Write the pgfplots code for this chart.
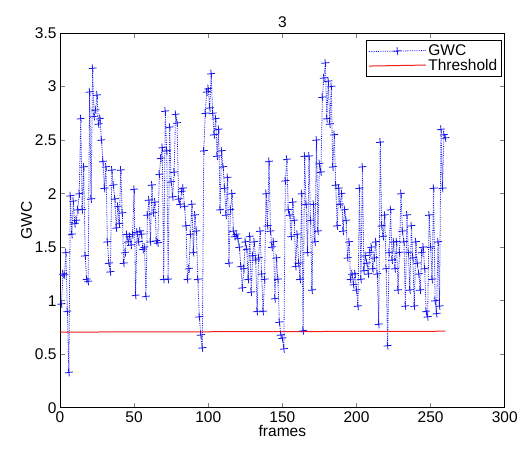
\documentclass[border=0pt]{standalone}
\usepackage{pgfplots}
\pgfplotsset{compat=1.18}
\usepackage{pgfplotstable}
\usepackage{fontspec}
\setmainfont{Liberation Sans}
\definecolor{gwcblue}{rgb}{0.08,0.08,0.92}
\definecolor{thrred}{rgb}{0.95,0.12,0.12}

\pgfplotstableread{
frame gwc
1 0.97
2 1.25
3 1.24
4 1.45
5 0.90
6 0.33
7 1.98
8 1.62
9 1.93
10 1.72
11 1.75
12 1.85
13 2.00
14 2.70
15 1.85
16 2.25
17 1.42
18 1.20
19 1.18
20 2.95
21 1.95
22 3.17
23 2.72
24 2.78
25 2.92
26 2.65
27 2.70
28 2.50
29 2.30
30 2.05
31 2.25
32 1.55
33 1.35
34 1.27
35 2.22
36 2.08
37 1.95
38 1.68
39 1.88
40 1.72
41 2.22
42 1.82
43 1.35
44 1.45
45 1.62
46 1.55
47 1.60
48 1.52
49 1.62
50 2.04
51 1.05
52 1.64
53 1.55
54 1.65
55 1.62
56 1.48
57 1.50
58 1.04
59 1.80
60 1.94
61 1.55
62 2.08
63 1.82
64 1.92
65 1.56
66 1.54
67 2.18
68 2.33
69 2.43
70 1.20
71 2.77
72 2.40
73 1.20
74 2.62
75 2.11
76 1.97
77 2.20
78 2.74
79 2.66
80 1.95
81 1.90
82 2.02
83 2.05
84 1.88
85 1.70
86 1.20
87 1.30
88 1.62
89 1.90
90 1.45
91 1.80
92 1.65
93 1.20
94 0.85
95 0.68
96 0.56
97 2.40
98 2.75
99 2.95
100 2.98
101 2.80
102 3.12
103 2.75
104 2.55
105 2.70
106 2.35
107 2.60
108 1.85
109 2.40
110 2.25
111 2.05
112 1.80
113 2.15
114 1.35
115 1.85
116 2.00
117 1.65
118 1.60
119 1.62
120 1.58
121 1.50
122 1.32
123 1.12
124 1.30
125 1.55
126 1.48
127 1.20
128 1.60
129 1.08
130 1.42
131 1.55
132 1.38
133 0.90
134 1.40
135 1.65
136 1.25
137 0.90
138 1.20
139 2.00
140 1.70
141 2.30
142 1.65
143 1.50
144 1.55
145 1.02
146 1.40
147 1.20
148 0.80
149 0.68
150 0.65
151 0.55
152 2.12
153 2.32
154 1.85
155 1.80
156 1.60
157 1.92
158 1.75
159 1.32
160 1.62
161 1.35
162 1.20
163 2.00
164 0.72
165 2.35
166 1.90
167 1.45
168 2.35
169 1.75
170 1.10
171 1.90
172 1.55
173 2.50
174 1.65
175 2.28
176 2.20
177 2.90
178 3.08
179 3.22
180 2.70
181 3.05
182 2.65
183 3.00
184 2.25
185 2.55
186 2.08
187 1.70
188 2.05
189 1.90
190 2.00
191 1.65
192 1.85
193 1.75
194 1.40
195 1.55
196 1.20
197 1.25
198 1.15
199 1.25
200 1.10
201 0.95
202 2.05
203 1.20
204 2.25
205 1.28
206 1.42
207 1.35
208 1.25
209 1.45
210 1.50
211 1.30
212 1.40
213 1.55
214 1.25
215 0.78
216 2.48
217 1.70
218 1.60
219 1.80
220 1.30
221 0.58
222 1.45
223 1.85
224 1.38
225 1.55
226 1.30
227 1.55
228 1.10
229 1.45
230 2.00
231 1.65
232 1.55
233 0.95
234 1.80
235 1.45
236 1.10
237 1.70
238 1.40
239 0.95
240 1.55
241 1.35
242 1.25
243 1.10
244 1.45
245 1.50
246 1.30
247 0.90
248 0.85
249 1.80
250 1.50
251 1.20
252 2.05
253 1.00
254 0.88
255 1.55
256 0.95
257 2.60
258 2.05
259 2.55
260 2.52
}\gwcdata

\begin{document}
\begin{tikzpicture}
\path (-60pt,-47pt) rectangle (461pt,408pt);
\begin{axis}[
  scale only axis,
  width=445pt, height=375pt,
  xmin=0, xmax=300, ymin=0, ymax=3.5,
  xtick={0,50,...,300},
  ytick={0,0.5,...,3.5},
  tick align=inside,
  major tick length=5pt,
  axis line style={line width=0.8pt},
  tick style={line width=0.6pt},
  tick label style={font=\fontsize{15.5}{18}\selectfont},
  /pgf/number format/assume math mode=true,
  yticklabel style={/pgf/number format/.cd, fixed, precision=1},
  title={3},
  title style={font=\fontsize{15.5}{18}\selectfont, yshift=-4pt},
  xlabel={frames},
  ylabel={GWC},
  label style={font=\fontsize{15.5}{18}\selectfont},
  xlabel style={yshift=4pt},
  ylabel style={yshift=-4pt},
  legend style={at={(0.993,0.98)}, anchor=north east, draw=black,
    line width=0.8pt, font=\fontsize{15.5}{18}\selectfont,
    inner sep=2pt, row sep=-2pt},
  legend cell align=left,
  legend image code/.code={
    \draw[mark repeat=2, mark phase=2, #1]
      plot coordinates {(0cm,-0.5pt) (1cm,0pt) (2cm,0.5pt)};},
]
\addplot[color=gwcblue, densely dotted, line width=0.8pt,
  mark=+, mark size=4pt,
  mark options={solid, rotate=6, color=gwcblue, line width=0.8pt}]
  table[x=frame, y=gwc] {\gwcdata};
\addlegendentry{GWC}
\addplot[color=thrred, line width=1pt]
  coordinates {(0,0.707) (260,0.715)};
\addlegendentry{Threshold}
\end{axis}
\end{tikzpicture}
\end{document}
